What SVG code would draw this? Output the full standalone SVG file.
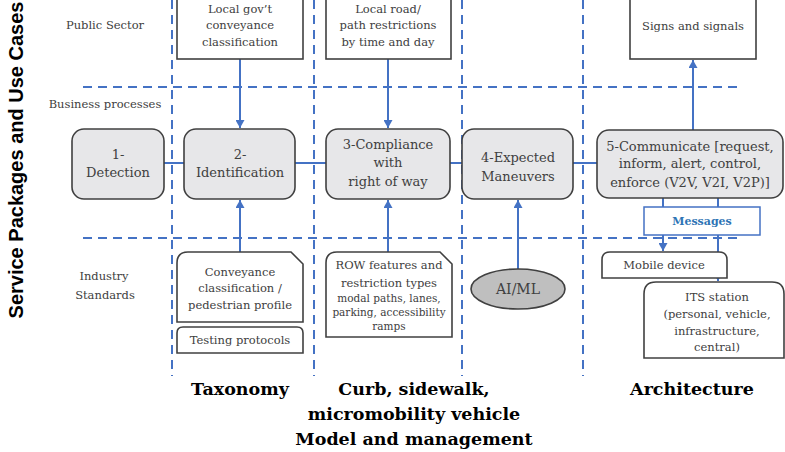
<svg xmlns="http://www.w3.org/2000/svg" width="785" height="452" viewBox="0 0 785 452">
<style>
.grid{stroke:#4472c4;stroke-width:2;stroke-dasharray:9 6;fill:none}
.conn{stroke:#4472c4;stroke-width:2;fill:none}
.box{fill:#ffffff;stroke:#404040;stroke-width:1.6}
.proc{fill:#e7e7e9;stroke:#404040;stroke-width:1.6}
.t{font-family:"DejaVu Serif","Liberation Serif",serif;fill:#404040;text-anchor:middle}
.s{font-size:11.5px}
.m{font-size:13px}
.xs{font-size:10.5px}
.lbl{font-family:"DejaVu Serif","Liberation Serif",serif;font-size:11.5px;fill:#404040;text-anchor:middle}
.big{font-family:"DejaVu Serif","Liberation Serif",serif;font-size:17.5px;font-weight:bold;fill:#000;text-anchor:middle}
</style>
<defs>
<marker id="ah" markerUnits="userSpaceOnUse" markerWidth="9" markerHeight="9" refX="8" refY="4.5" orient="auto">
<path d="M0,0 L8,4.5 L0,9 z" fill="#4472c4"/>
</marker>
</defs>

<text transform="translate(23,160) rotate(-90)" font-family="'Liberation Sans',Arial,sans-serif" font-size="20" font-weight="bold" text-anchor="middle" fill="#000">Service Packages and Use Cases</text>

<g id="grid">
<path class="grid" d="M172,0 V376 M314,0 V376 M462,0 V376 M583,0 V376"/>
<path class="grid" d="M83,87 H737 M83,238 H737"/>
</g>

<g id="row-labels">
<text class="lbl" x="105" y="29">Public Sector</text>
<text class="lbl" x="105" y="108">Business processes</text>
<text class="lbl" x="104" y="280">Industry</text>
<text class="lbl" x="105" y="299">Standards</text>
</g>

<g id="connectors">
<path class="conn" d="M240,59 V128" marker-end="url(#ah)"/>
<path class="conn" d="M388,59 V128" marker-end="url(#ah)"/>
<path class="conn" d="M693,130 V60" marker-end="url(#ah)"/>
<path class="conn" d="M240,252 V200" marker-end="url(#ah)"/>
<path class="conn" d="M388,252 V200" marker-end="url(#ah)"/>
<path class="conn" d="M518,269 V200" marker-end="url(#ah)"/>
<path class="conn" d="M164,163 H184 M295,163 H326 M450,163 H462 M573,163 H597"/>
<path class="conn" d="M663,198 V207 M718,198 V207"/>
<path class="conn" d="M663,235 V251" marker-end="url(#ah)"/>
<path class="conn" d="M718,235 V281" marker-end="url(#ah)"/>
</g>

<g id="gov">
<rect class="box" x="177" y="-3" width="126" height="62"/>
<text class="t s" x="240" y="13">Local gov’t</text>
<text class="t s" x="240" y="29">conveyance</text>
<text class="t s" x="240" y="46">classification</text>
</g>
<g id="road">
<rect class="box" x="326" y="-3" width="125" height="62"/>
<text class="t s" x="388" y="13">Local road/</text>
<text class="t s" x="388" y="29">path restrictions</text>
<text class="t s" x="388" y="46">by time and day</text>
</g>
<g id="signs">
<rect class="box" x="630" y="-3" width="126" height="62"/>
<text class="t s" x="693" y="30">Signs and signals</text>
</g>

<g id="detection">
<rect class="proc" x="72" y="129" width="92" height="70" rx="12"/>
<text class="t m" x="118" y="159">1-</text>
<text class="t m" x="118" y="177">Detection</text>
</g>
<g id="identification">
<rect class="proc" x="184" y="129" width="111" height="70" rx="12"/>
<text class="t m" x="240" y="159">2-</text>
<text class="t m" x="240" y="177">Identification</text>
</g>
<g id="compliance">
<rect class="proc" x="326" y="129" width="124" height="70" rx="12"/>
<text class="t m" x="388" y="149">3-Compliance</text>
<text class="t m" x="388" y="167">with</text>
<text class="t m" x="388" y="186">right of way</text>
</g>
<g id="maneuvers">
<rect class="proc" x="462" y="129" width="111" height="70" rx="12"/>
<text class="t m" x="518" y="162">4-Expected</text>
<text class="t m" x="518" y="181">Maneuvers</text>
</g>
<g id="communicate">
<rect class="proc" x="597" y="130" width="186" height="68" rx="12"/>
<text class="t m" x="690" y="151">5-Communicate [request,</text>
<text class="t m" x="690" y="168">inform, alert, control,</text>
<text class="t m" x="690" y="187">enforce (V2V, V2I, V2P)]</text>
</g>

<g id="messages">
<rect x="644" y="207" width="116" height="28" fill="#fff" stroke="#4472c4" stroke-width="1.5"/>
<text x="702" y="225" font-family="'DejaVu Serif','Liberation Serif',serif" font-size="11" font-weight="bold" fill="#2e74b5" text-anchor="middle">Messages</text>
</g>

<g id="mobile">
<path class="box" d="M602,278 V260 Q602,252 610,252 H719 Q727,252 727,260 V278 Z"/>
<text class="t s" x="664" y="269">Mobile device</text>
</g>
<g id="its">
<path class="box" d="M644,358 V294 Q644,282 656,282 H772 Q784,282 784,294 V358 Z"/>
<text class="t s" x="717" y="301">ITS station</text>
<text class="t s" x="717" y="318">(personal, vehicle,</text>
<text class="t s" x="717" y="335">infrastructure,</text>
<text class="t s" x="717" y="351">central)</text>
</g>

<g id="conveyance">
<path class="box" d="M177,322 V263 Q177,252 188,252 H291 L303,264 V322 Z"/>
<text class="t s" x="240" y="276">Conveyance</text>
<text class="t s" x="240" y="292">classification /</text>
<text class="t s" x="240" y="309">pedestrian profile</text>
</g>
<g id="testing">
<path class="box" d="M177,353 V333 Q177,327 183,327 H297 Q303,327 303,333 V353 Z"/>
<text class="t s" x="240" y="344">Testing protocols</text>
</g>
<g id="row">
<path class="box" d="M326,337 V263 Q326,252 337,252 H440 L452,264 V337 Z"/>
<text class="t s" x="389" y="269">ROW features and</text>
<text class="t s" x="389" y="287">restriction types</text>
<text class="t xs" x="389" y="302">modal paths, lanes,</text>
<text class="t xs" x="389" y="316">parking, accessibility</text>
<text class="t xs" x="389" y="330">ramps</text>
</g>
<g id="aiml">
<ellipse cx="518" cy="289" rx="47" ry="20" fill="#bfbfbf" stroke="#404040" stroke-width="1.6"/>
<text class="t" x="518" y="294" font-size="14">AI/ML</text>
</g>

<g id="columns">
<text class="big" x="240" y="395">Taxonomy</text>
<text class="big" x="414" y="395">Curb, sidewalk,</text>
<text class="big" x="414" y="420">micromobility vehicle</text>
<text class="big" x="414" y="445">Model and management</text>
<text class="big" x="692" y="395">Architecture</text>
</g>
</svg>
